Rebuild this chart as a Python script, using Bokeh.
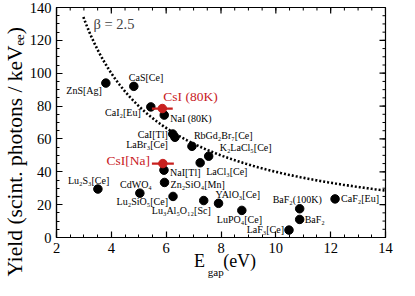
import numpy as np
from bokeh.plotting import figure
from bokeh.models import ColumnDataSource, Range1d, LinearAxis, Label, FixedTicker, Title
from bokeh.core.properties import value
from bokeh.embed import file_html
from bokeh.resources import INLINE

# ---------------- data ----------------
names = ["ZnS[Ag]", "CaS[Ce]", "CaI₂[Eu]", "NaI (80K)", "CaI[Tl]", "LaBr₃[Ce]",
         "RbGd₂Br₇[Ce]", "K₂LaCl₅[Ce]", "LaCl₃[Ce]", "NaI[Tl]", "Zn₂SiO₄[Mn]",
         "Lu₂S₃[Ce]", "CdWO₄", "Lu₂SiO₅[Ce]", "Lu₃Al₅O₁₂[Sc]", "YAlO₃[Ce]",
         "LuPO₄[Ce]", "BaF₂(100K)", "BaF₂", "LaF₃[Ce]", "CaF₂[Eu]"]
egap = [3.8, 4.82, 5.44, 5.93, 6.24, 6.32, 6.94, 7.55, 7.24, 5.92, 5.94,
        3.51, 5.04, 6.25, 7.37, 7.91, 8.76, 10.87, 10.87, 10.48, 12.16]
yield_ = [94, 92, 79.5, 74.5, 63, 61, 55.5, 49.5, 45.5, 41, 33.5,
          29.5, 27, 25, 22.5, 20.8, 16.5, 17.5, 11, 4.5, 23.5]

csi_names = ["CsI (80K)", "CsI[Na]"]
csi_egap = [5.86, 5.88]
csi_yield = [78.5, 45]
csi_xerr = [0.38, 0.4]

beta = 2.5
curve_e = np.linspace(2.98, 14, 200)
curve_y = 1000.0 / (beta * curve_e)

x_ticks = [2, 4, 6, 8, 10, 12, 14]
y_ticks = [0, 20, 40, 60, 80, 100, 120, 140]

y_title = "Yield (scint. photons / keVₑₑ)"
x_title_main = "E"
x_title_sub = "gap"
x_title_unit = "(eV)"
beta_text = "β = 2.5"

# ---------------- layout (screen px offsets / positions) ----------------
lab_align = ["right", "left", "right", "left", "right", "right",
             "left", "left", "left", "left", "left",
             "left", "right", "right", "right", "left",
             "left", "left", "left", "right", "left"]
lab_dx = [-4, -5, -10, 6, -5, -7, 2, 11, 6, 6, 6, -30, 12, -5, 7, -3, -25, -27, 5, -5, 6]
lab_dy = [7, -9, 6, 3, 0, 7, -11, -9, 9, 2, 2, -9, -9, 5, 10, -9, 9, -9, 0, -1, 0]
csi_align = ["left", "right"]
csi_dx = [1, -13]
csi_dy = [-12, -3]

# anchor positions (data units) of the outside-frame x title pieces
x_main_at = 7.22
x_sub_at = 7.81
x_unit_at = 8.68

SERIF = "Liberation Serif"
RED = "#c8201e"

p = figure(width=399, height=280, output_backend="svg", toolbar_location=None,
           x_range=Range1d(2, 14), y_range=Range1d(0, 140),
           min_border_left=53, min_border_right=14, min_border_top=7, min_border_bottom=39)
p.grid.visible = False
p.outline_line_color = "black"
p.outline_line_width = 1.2
p.background_fill_color = "white"
p.border_fill_color = "white"


def minor_of(ticks):
    step = (ticks[1] - ticks[0]) / 4.0
    return list(np.arange(ticks[0], ticks[-1] + 1e-9, step))


def style_axis(ax, ticks):
    ax.ticker = FixedTicker(ticks=ticks, minor_ticks=minor_of(ticks))
    ax.major_tick_in = 6
    ax.major_tick_out = 0
    ax.minor_tick_in = 3
    ax.minor_tick_out = 0
    ax.axis_line_color = "black"
    ax.axis_line_width = 1.2
    ax.major_tick_line_width = 1.2
    ax.minor_tick_line_width = 1
    ax.major_label_text_font = SERIF
    ax.major_label_text_font_size = "14.5px"
    ax.major_label_text_color = "black"
    ax.major_label_standoff = 5


style_axis(p.xaxis[0], x_ticks)
style_axis(p.yaxis[0], y_ticks)


def title_axis(ticks, labels, size, standoff):
    ax = LinearAxis(ticker=FixedTicker(ticks=ticks, minor_ticks=[]))
    ax.major_label_overrides = {t: s for t, s in zip(ticks, labels)}
    ax.axis_line_color = None
    ax.major_tick_line_color = None
    ax.minor_tick_line_color = None
    ax.major_tick_in = 0
    ax.major_tick_out = 0
    ax.major_label_text_font = SERIF
    ax.major_label_text_font_size = size
    ax.major_label_text_color = "black"
    ax.major_label_standoff = standoff
    return ax


# y title (vertical, starting below the frame bottom like the reference)
p.add_layout(Title(text=y_title, align="left", offset=-39, standoff=0,
                   text_font=SERIF, text_font_size="21.5px", text_font_style="normal",
                   text_color="black"), "left")
# x title: E and (eV), then the subscript row
p.add_layout(title_axis([x_main_at, x_unit_at], [x_title_main, x_title_unit], "18px", -5), "below")
p.add_layout(title_axis([x_sub_at], [x_title_sub], "11px", -8), "below")

# mirrored ticks on top and right sides (inward)
xmin = minor_of(x_ticks)
ymin = minor_of(y_ticks)
p.ray(x=x_ticks, y=[y_ticks[-1]] * len(x_ticks), length=6, length_units="screen",
      angle=-np.pi / 2, line_color="black", line_width=1.2)
p.ray(x=xmin, y=[y_ticks[-1]] * len(xmin), length=3, length_units="screen",
      angle=-np.pi / 2, line_color="black", line_width=1)
p.ray(x=[x_ticks[-1]] * len(y_ticks), y=y_ticks, length=6, length_units="screen",
      angle=np.pi, line_color="black", line_width=1.2)
p.ray(x=[x_ticks[-1]] * len(ymin), y=ymin, length=3, length_units="screen",
      angle=np.pi, line_color="black", line_width=1)

# curve
p.line(curve_e, curve_y, line_color="black", line_width=2.6, line_dash="2 2")

# black points
src = ColumnDataSource(dict(x=egap, y=yield_, name=names, align=lab_align, dx=lab_dx, dy=lab_dy))
p.scatter("x", "y", source=src, size=8.5, color="black")
p.text("x", "y", text="name", source=src, x_offset="dx", y_offset="dy", text_align="align",
       text_baseline="middle", text_font=value(SERIF), text_font_size="10px", text_color="black")

# red CsI points with error bars
csrc = ColumnDataSource(dict(x=csi_egap, y=csi_yield, name=csi_names,
                             x0=[a - b for a, b in zip(csi_egap, csi_xerr)],
                             x1=[a + b for a, b in zip(csi_egap, csi_xerr)],
                             align=csi_align, dx=csi_dx, dy=csi_dy))
p.segment("x0", "y", "x1", "y", source=csrc, line_color=RED, line_width=2.2)
p.scatter("x", "y", source=csrc, size=8.5, color=RED)
p.text("x", "y", text="name", source=csrc, x_offset="dx", y_offset="dy", text_align="align",
       text_baseline="middle", text_font=value(SERIF), text_font_size="13.5px", text_color=RED)

# beta label
p.add_layout(Label(x=3.35, y=129.7, text=beta_text, text_font=SERIF, text_font_size="14.5px",
                   text_baseline="middle", text_align="left"))

open("out.html", "w").write(file_html(p, INLINE))
